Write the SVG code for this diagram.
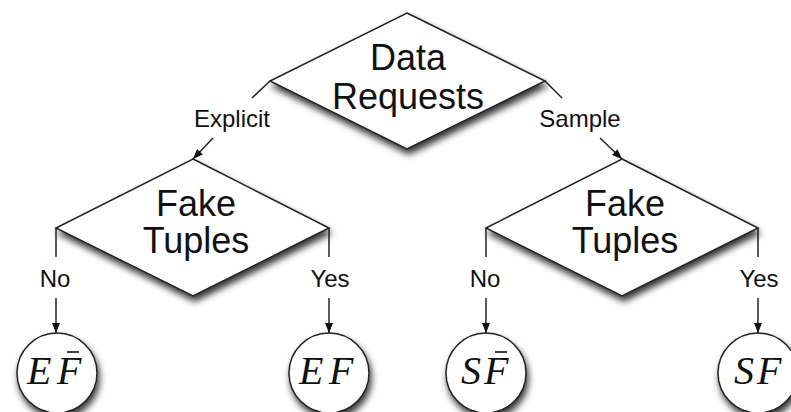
<svg xmlns="http://www.w3.org/2000/svg" width="791" height="412" viewBox="0 0 791 412">
<defs>
<filter id="sh" x="-20%" y="-20%" width="140%" height="150%">
<feGaussianBlur in="SourceAlpha" stdDeviation="3.5"/>
<feOffset dx="2" dy="5" result="b"/>
<feComponentTransfer><feFuncA type="linear" slope="0.8"/></feComponentTransfer>
<feMerge><feMergeNode/><feMergeNode in="SourceGraphic"/></feMerge>
</filter>
<marker id="ah" viewBox="0 0 10 8" refX="10" refY="4" markerWidth="10" markerHeight="8" markerUnits="userSpaceOnUse" orient="auto">
<path d="M0,0 L10,4 L0,8 z" fill="#111"/>
</marker>
</defs>
<style>
.shape{fill:#fff;stroke:#222;stroke-width:1.5;filter:url(#sh)}
.big{font-family:"Liberation Sans",Arial,sans-serif;font-size:36px;fill:#111;text-anchor:middle}
.lbl{font-family:"Liberation Sans",Arial,sans-serif;font-size:24px;fill:#111;text-anchor:middle}
.math{font-family:"Liberation Serif","Times New Roman",serif;font-style:italic;font-size:40px;fill:#111}
.ln{stroke:#222;stroke-width:1.5;fill:none}
.ar{stroke:#222;stroke-width:1.5;fill:none;marker-end:url(#ah)}
.bar{stroke:#111;stroke-width:1.6}
</style>
<rect width="791" height="412" fill="#fff"/>
<g id="connectors">
<line class="ln" x1="270" y1="81" x2="252" y2="98"/>
<line class="ar" x1="213" y1="138" x2="193" y2="159"/>
<line class="ln" x1="545" y1="81" x2="562" y2="98"/>
<line class="ar" x1="600" y1="138" x2="622" y2="159"/>
<line class="ln" x1="56" y1="228" x2="56" y2="257"/>
<line class="ar" x1="56" y1="298" x2="56" y2="333"/>
<line class="ln" x1="329" y1="228" x2="329" y2="257"/>
<line class="ar" x1="329" y1="298" x2="329" y2="333"/>
<line class="ln" x1="486" y1="228" x2="486" y2="257"/>
<line class="ar" x1="486" y1="298" x2="486" y2="333"/>
<line class="ln" x1="758" y1="228" x2="758" y2="257"/>
<line class="ar" x1="758" y1="298" x2="758" y2="333"/>
<text class="lbl" x="232" y="127">Explicit</text>
<text class="lbl" x="580" y="127">Sample</text>
<text class="lbl" x="55" y="287">No</text>
<text class="lbl" x="330" y="287">Yes</text>
<text class="lbl" x="485" y="287">No</text>
<text class="lbl" x="759" y="287">Yes</text>
</g>
<g id="data-requests">
<polygon class="shape" points="407,13 545,81 407,149 270,81"/>
<text class="big" x="408" y="70">Data</text>
<text class="big" x="408" y="109">Requests</text>
</g>
<g id="fake-tuples-left">
<polygon class="shape" points="193,159 329,228 193,296 56,228"/>
<text class="big" x="196" y="216">Fake</text>
<text class="big" x="196" y="253">Tuples</text>
</g>
<g id="fake-tuples-right">
<polygon class="shape" points="622,159 758,228 622,296 486,228"/>
<text class="big" x="625" y="216">Fake</text>
<text class="big" x="625" y="253">Tuples</text>
</g>
<g id="ef-bar">
<circle class="shape" cx="57" cy="373" r="40"/>
<text class="math" y="384"><tspan x="27">E</tspan><tspan x="57">F</tspan></text>
<line class="bar" x1="67" y1="352" x2="79" y2="352"/>
</g>
<g id="ef">
<circle class="shape" cx="329" cy="373" r="40"/>
<text class="math" y="384"><tspan x="299">E</tspan><tspan x="329">F</tspan></text>
</g>
<g id="sf-bar">
<circle class="shape" cx="486" cy="373" r="40"/>
<text class="math" y="384"><tspan x="461">S</tspan><tspan x="484">F</tspan></text>
<line class="bar" x1="495" y1="352" x2="507" y2="352"/>
</g>
<g id="sf">
<circle class="shape" cx="758" cy="373" r="40"/>
<text class="math" y="384"><tspan x="734">S</tspan><tspan x="757">F</tspan></text>
</g>
</svg>
